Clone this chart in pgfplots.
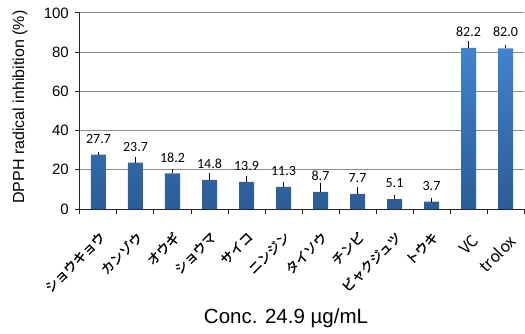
\documentclass[border=0pt]{standalone}
\usepackage{pgfplots}
\pgfplotsset{compat=1.18}
\usetikzlibrary{calc}
\usepackage{fontspec}
\setmainfont{Liberation Sans}
\newfontfamily\jpfont[FakeBold=1.2]{Noto Sans CJK JP}
\newfontfamily\latfont{Noto Sans CJK JP}
\newfontfamily\calfont{Carlito}
\definecolor{bartop}{HTML}{4083CF}
\definecolor{barbot}{HTML}{2B5C97}
\definecolor{gridc}{HTML}{8E8E8E}
% Latin category names, nudged to line up with the katakana names
\newcommand\latinlabel[1]{\latfont\fontsize{16bp}{18bp}\selectfont\raisebox{-4bp}[\height]{#1}\hspace{-4bp}}
\begin{document}
\begin{tikzpicture}
\begin{axis}[
  scale only axis,
  width=444bp, height=196bp,
  xmin=-0.5, xmax=11.5,
  ymin=0, ymax=100,
  ytick={0,20,...,100},
  xtick={0,...,11},
  xticklabels={ショウキョウ,カンゾウ,オウギ,ショウマ,サイコ,ニンジン,タイソウ,チンピ,ビャクジュツ,トウキ,{\latinlabel{VC}},{\latinlabel{trolox}}},
  minor xtick={-0.5,0.5,...,11.5},
  major x tick style={draw=none},
  tick align=outside,
  major tick length=5bp,
  minor tick length=5bp,
  axis x line*=bottom,
  axis y line*=left,
  axis line style={black!85, line width=1bp},
  every tick/.style={black!85, line width=1bp},
  minor x tick style={black!85, line width=1bp},
  ymajorgrids,
  grid style={gridc, line width=1bp},
  /pgf/number format/assume math mode=true,
  yticklabel style={font=\fontsize{15bp}{17bp}\selectfont, inner sep=2bp, xshift=-4bp},
  xticklabel style={font=\jpfont\fontsize{13bp}{15bp}\selectfont, xshift=0bp, yshift=-15bp, rotate=45, anchor=north east, inner sep=1bp},
  ylabel={DPPH radical inhibition (\%)},
  ylabel style={font=\fontsize{16bp}{18bp}\selectfont, at={(axis description cs:-0.135,0.52)}, anchor=center},
  xlabel={Conc. 24.9 µg/mL},
  xlabel style={font=\fontsize{20.5bp}{22bp}\selectfont, at={(axis description cs:0.464,-0.556)}, anchor=center},
  clip=false,
]
\coordinate (o) at (rel axis cs:0,0);
\addplot[ybar, bar width=15bp, draw=none, top color=bartop, bottom color=barbot,
  error bars/.cd, y dir=plus, y explicit, error mark=none,
  error bar style={black, line width=1.2bp}]
  coordinates {
  (0,27.7) +- (0,1.5)
  (1,23.7) +- (0,3.0)
  (2,18.2) +- (0,2.0)
  (3,14.8) +- (0,3.5)
  (4,13.9) +- (0,3.0)
  (5,11.3) +- (0,2.5)
  (6,8.7)  +- (0,4.5)
  (7,7.7)  +- (0,3.5)
  (8,5.1)  +- (0,2.0)
  (9,3.7)  +- (0,2.0)
  (10,82.2) +- (0,3.5)
  (11,82.0) +- (0,1.5)
  };
\addplot[draw=none, mark=none,
  nodes near coords,
  nodes near coords style={font=\calfont\fontsize{14bp}{16bp}\selectfont, anchor=south, inner sep=0pt, yshift=11bp,
    /pgf/number format/.cd, fixed, fixed zerofill, precision=1, assume math mode=true}]
  coordinates {
  (0,27.7) (1,23.7) (2,18.2) (3,14.8) (4,13.9) (5,11.3)
  (6,8.7) (7,7.7) (8,5.1) (9,3.7) (10,82.2) (11,82.0)
  };
\end{axis}
\pgfresetboundingbox
\useasboundingbox ($(o)+(-80bp,-125bp)$) rectangle ($(o)+(445bp,209bp)$);
\end{tikzpicture}
\end{document}
